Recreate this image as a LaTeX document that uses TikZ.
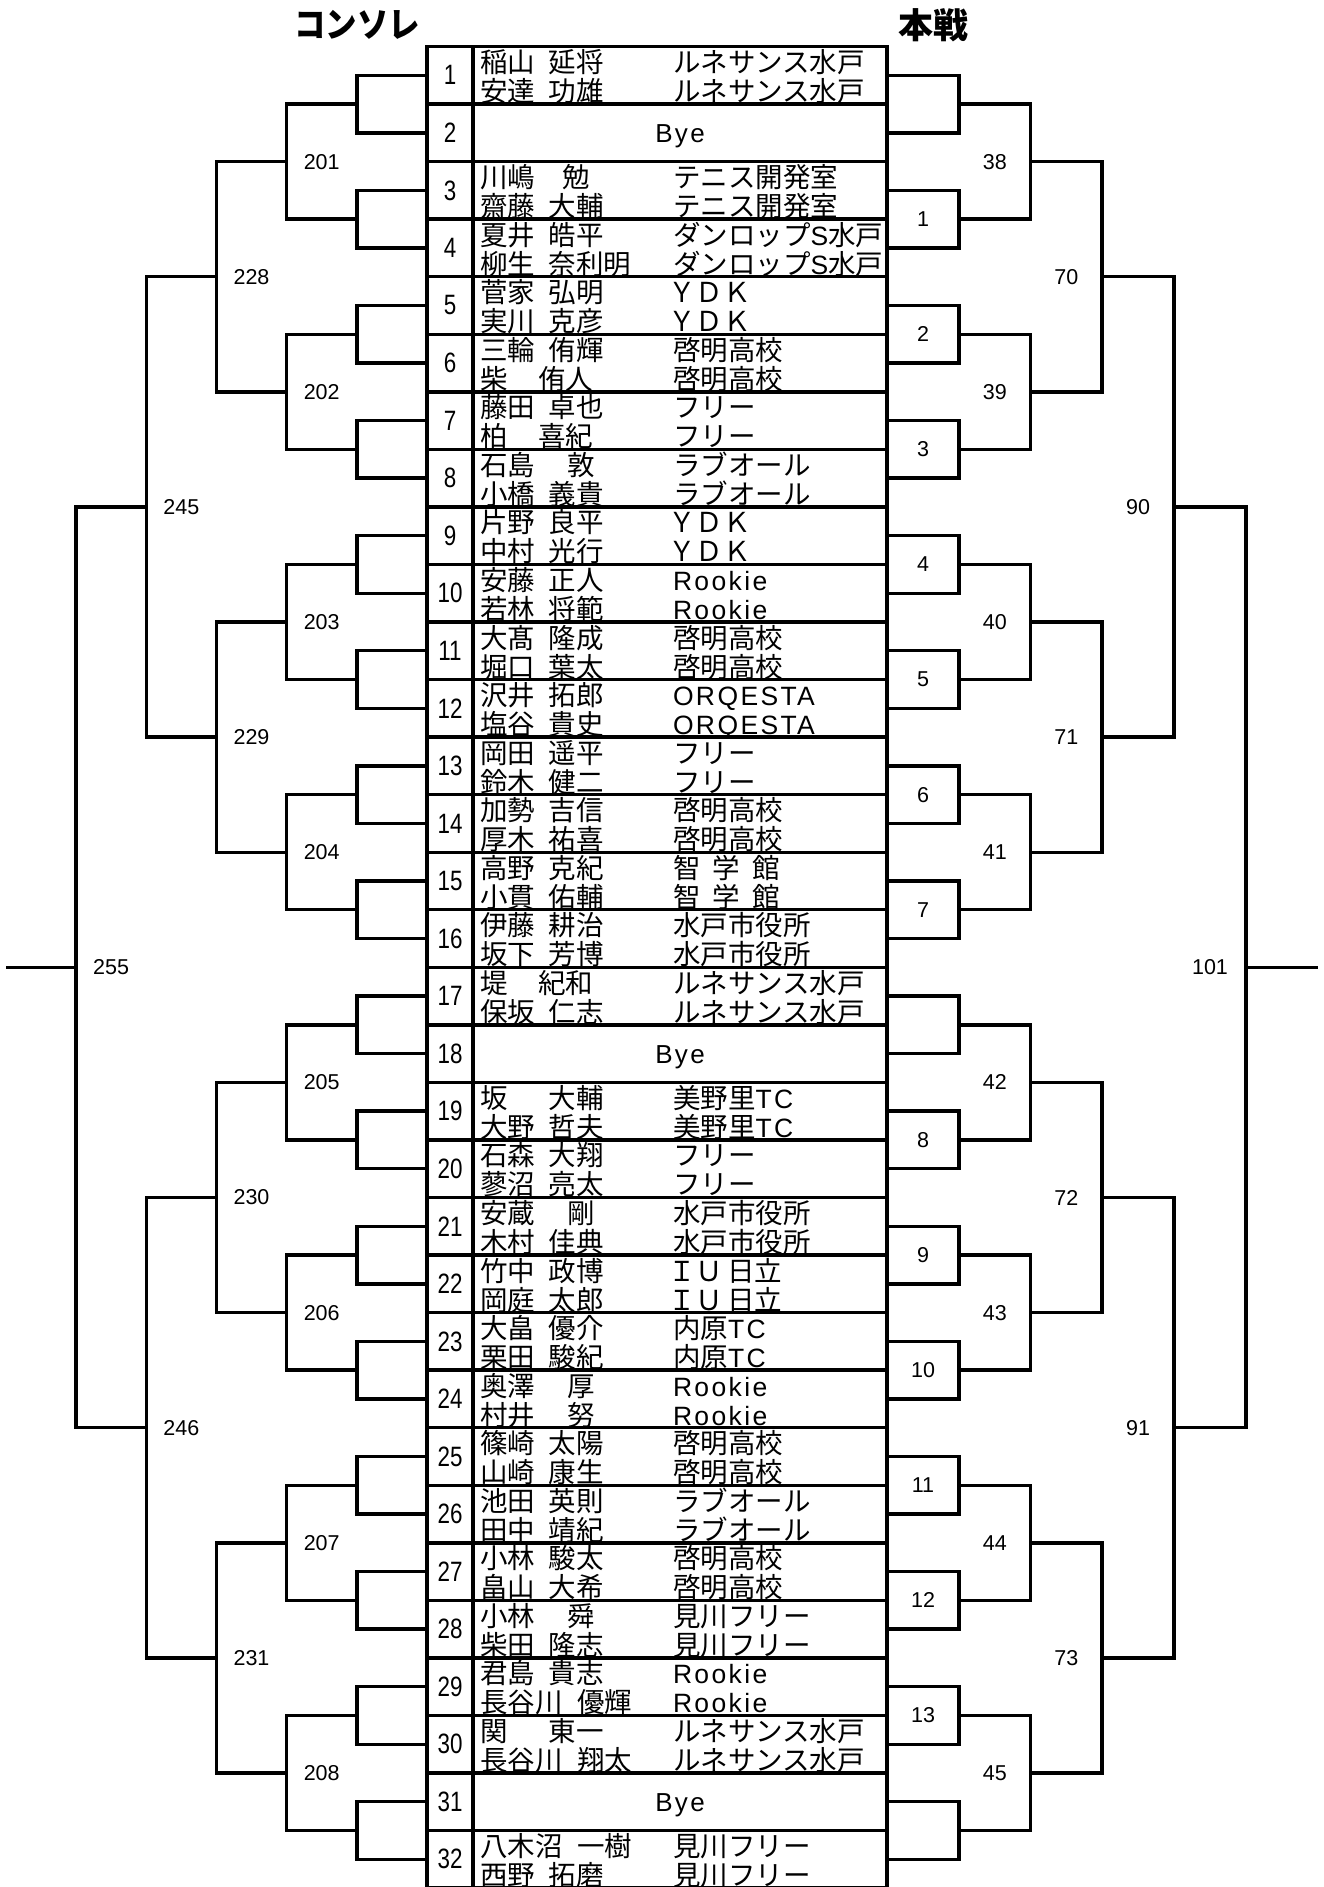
\documentclass[tikz,border=0pt]{standalone}
\usepackage{fontspec}
\usepackage{graphicx}
\setmainfont{Noto Sans CJK JP}
\newfontfamily\latf{Liberation Sans}[LetterSpace=9]
\newfontfamily\numf{Liberation Sans}[FakeStretch=0.8]
\newfontfamily\labf{Liberation Sans}
\newcommand\latn[1]{{\latf\fontsize{26.5}{30}\selectfont #1}}
\newcommand\fw[1]{\hspace{-0.18em}#1}
\def\Tt{46.5}
\def\Hh{57.55}
\def\G{548.5}
\tikzset{
 br/.style={line width=3.4pt, line join=miter},
 cellnum/.style={draw, line width=3.4pt, rectangle, minimum width=46pt, minimum height=57.55pt, inner sep=0pt, outer sep=0pt, font=\numf\fontsize{28}{30}\selectfont},
 cellbody/.style={draw, line width=3.4pt, rectangle, minimum width=414pt, minimum height=57.55pt, inner sep=0pt, outer sep=0pt},
 txt/.style={anchor=base west, inner sep=0pt, outer sep=0pt, font=\fontsize{27.5}{30}\selectfont},
 byetxt/.style={anchor=base, inner sep=0pt, outer sep=0pt, font=\latf\fontsize{26}{30}\selectfont},
 lbl/.style={inner sep=0pt, font=\labf\fontsize{21.5}{23}\selectfont},
 ttl/.style={inner sep=0pt, font=\bfseries\fontsize{35}{40}\selectfont},
}
\newcommand\player[8]{%
 \node[txt] (sa#1) at (480, {\Tt+(#1-1)*\Hh+26}) {#2};
 \node[txt] (ga#1) at (#4, {\Tt+(#1-1)*\Hh+26}) {#3};
 \node[txt] (sb#1) at (480, {\Tt+(#1-1)*\Hh+55}) {#5};
 \node[txt] (gb#1) at (#7, {\Tt+(#1-1)*\Hh+55}) {#6};
 \node[txt] (ka#1) at (673, {\Tt+(#1-1)*\Hh+26}) {#8};
 \node[txt] (kb#1) at (673, {\Tt+(#1-1)*\Hh+55}) {#8};
}
\begin{document}
\begin{tikzpicture}[x=1pt,y=-1pt]
\useasboundingbox (0,0) rectangle (1324,1887);

% titles
\node[ttl] (tc) at (357,25) {\scalebox{0.9}[1]{コンソレ}};
\node[ttl] (th) at (933,25) {本戦};

% table cells
\foreach \i in {1,...,32} {
  \node[cellnum] (n\i) at (450, {\Tt+(\i-0.5)*\Hh}) {\i};
  \node[cellbody] (c\i) at (680, {\Tt+(\i-0.5)*\Hh}) {};
}
\node[byetxt] (bye2) at (680, {\Tt+1*\Hh+38.5}) {Bye};
\node[byetxt] (bye18) at (680, {\Tt+17*\Hh+38.5}) {Bye};
\node[byetxt] (bye31) at (680, {\Tt+30*\Hh+38.5}) {Bye};

% players
\player{1}{稲山}{延将}{\G}{安達}{功雄}{\G}{ルネサンス水戸}
\player{3}{川嶋}{勉}{562}{齋藤}{大輔}{\G}{テニス開発室}
\player{4}{夏井}{皓平}{\G}{柳生}{奈利明}{\G}{ダンロップ\latn{S}水戸}
\player{5}{菅家}{弘明}{\G}{実川}{克彦}{\G}{\fw{ＹＤＫ}}
\player{6}{三輪}{侑輝}{\G}{柴}{侑人}{538}{啓明高校}
\player{7}{藤田}{卓也}{\G}{柏}{喜紀}{538}{フリー}
\player{8}{石島}{敦}{567}{小橋}{義貴}{\G}{ラブオール}
\player{9}{片野}{良平}{\G}{中村}{光行}{\G}{\fw{ＹＤＫ}}
\player{10}{安藤}{正人}{\G}{若林}{将範}{\G}{\latn{Rookie}}
\player{11}{大髙}{隆成}{\G}{堀口}{葉太}{\G}{啓明高校}
\player{12}{沢井}{拓郎}{\G}{塩谷}{貴史}{\G}{\latn{ORQESTA}}
\player{13}{岡田}{遥平}{\G}{鈴木}{健二}{\G}{フリー}
\player{14}{加勢}{吉信}{\G}{厚木}{祐喜}{\G}{啓明高校}
\player{15}{高野}{克紀}{\G}{小貫}{佑輔}{\G}{智\hspace{0.45em}学\hspace{0.45em}館}
\player{16}{伊藤}{耕治}{\G}{坂下}{芳博}{\G}{水戸市役所}
\player{17}{堤}{紀和}{538}{保坂}{仁志}{\G}{ルネサンス水戸}
\player{19}{坂}{大輔}{\G}{大野}{哲夫}{\G}{美野里\latn{TC}}
\player{20}{石森}{大翔}{\G}{蓼沼}{亮太}{\G}{フリー}
\player{21}{安蔵}{剛}{567}{木村}{佳典}{\G}{水戸市役所}
\player{22}{竹中}{政博}{\G}{岡庭}{太郎}{\G}{\fw{ＩＵ}\hspace{0.15em}日立}
\player{23}{大畠}{優介}{\G}{栗田}{駿紀}{\G}{内原\latn{TC}}
\player{24}{奥澤}{厚}{567}{村井}{努}{567}{\latn{Rookie}}
\player{25}{篠崎}{太陽}{\G}{山崎}{康生}{\G}{啓明高校}
\player{26}{池田}{英則}{\G}{田中}{靖紀}{\G}{ラブオール}
\player{27}{小林}{駿太}{\G}{畠山}{大希}{\G}{啓明高校}
\player{28}{小林}{舜}{567}{柴田}{隆志}{\G}{見川フリー}
\player{29}{君島}{貴志}{\G}{長谷川}{優輝}{577}{\latn{Rookie}}
\player{30}{関}{東一}{\G}{長谷川}{翔太}{577}{ルネサンス水戸}
\player{32}{八木沼}{一樹}{577}{西野}{拓磨}{\G}{見川フリー}

% first round brackets, both sides
\foreach \j in {1,...,16} {
  \pgfmathtruncatemacro\ja{2*\j-1}
  \pgfmathtruncatemacro\jb{2*\j}
  \pgfmathsetmacro\yy{\Tt+(2*\j-1)*\Hh}
  \coordinate (L1-\j) at (356.8,\yy);
  \coordinate (R1-\j) at (959,\yy);
  \draw[br] (n\ja.west) -| (L1-\j) |- (n\jb.west);
  \draw[br] (c\ja.east) -| (R1-\j) |- (c\jb.east);
}
\foreach \j/\lt in {2/1,3/2,4/3,5/4,6/5,7/6,8/7,10/8,11/9,12/10,13/11,14/12,15/13} {
  \node[lbl] (rl1-\j) at (923, {\Tt+(2*\j-1)*\Hh}) {\lt};
}

% later rounds
\foreach \k/\lb/\rb in {2/200/37,3/227/69,4/244/89,5/254/100} {
  \pgfmathtruncatemacro\km{\k-1}
  \pgfmathtruncatemacro\nj{2^(5-\k)}
  \pgfmathsetmacro\vl{{427,356.8,286.6,216.4,146.2,76,5.8}[\k]}
  \pgfmathsetmacro\vlm{{427,356.8,286.6,216.4,146.2,76,5.8}[\km]}
  \pgfmathsetmacro\vr{{887,959,1030.5,1102,1174,1246,1318}[\k]}
  \pgfmathsetmacro\vrm{{887,959,1030.5,1102,1174,1246,1318}[\km]}
  \foreach \j in {1,...,\nj} {
    \pgfmathtruncatemacro\ja{2*\j-1}
    \pgfmathtruncatemacro\jb{2*\j}
    \pgfmathsetmacro\yy{\Tt+(2^\k*(\j-1)+2^(\k-1))*\Hh}
    \pgfmathtruncatemacro\lnum{\lb+\j}
    \pgfmathtruncatemacro\rnum{\rb+\j}
    \coordinate (L\k-\j) at (\vl,\yy);
    \coordinate (R\k-\j) at (\vr,\yy);
    \draw[br] (L\km-\ja) -| (L\k-\j) |- (L\km-\jb);
    \draw[br] (R\km-\ja) -| (R\k-\j) |- (R\km-\jb);
    \node[lbl] (ll\k-\j) at ({(\vl+\vlm)/2},\yy) {\lnum};
    \node[lbl] (rl\k-\j) at ({(\vr+\vrm)/2},\yy) {\rnum};
  }
}
\coordinate (Lend) at (5.8, {\Tt+16*\Hh});
\coordinate (Rend) at (1318, {\Tt+16*\Hh});
\draw[br] (L5-1) -- (Lend);
\draw[br] (R5-1) -- (Rend);
\end{tikzpicture}
\end{document}
